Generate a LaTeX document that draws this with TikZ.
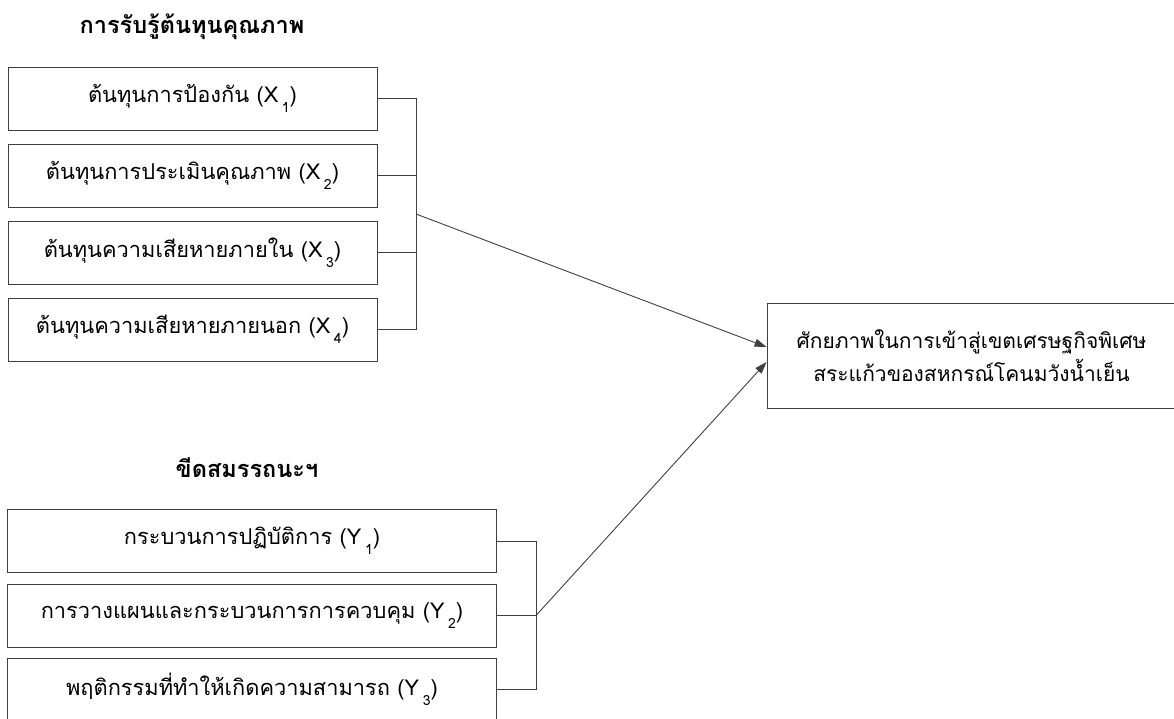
\documentclass[tikz,border=0pt]{standalone}
\usepackage{fontspec}
\newfontfamily\thai[Script=Thai]{Loma}
\usetikzlibrary{arrows.meta}
\newcommand\sbx[1]{\,\raisebox{-0.45em}{\fontsize{14}{14}\selectfont #1}}
\begin{document}
\begin{tikzpicture}[x=1pt,y=-1pt,
  box/.style={draw=black!75,line width=0.9pt,inner sep=0pt,minimum height=63pt,font=\thai\fontsize{21.8}{24}\selectfont},
  xbox/.style={box,minimum width=369pt},
  ybox/.style={box,minimum width=489pt},
  tbox/.style={box,minimum width=409pt,minimum height=105pt,align=center,font=\thai\fontsize{21}{33}\selectfont},
  ttl/.style={font=\thai\bfseries\fontsize{23.5}{26}\selectfont},
  ln/.style={draw=black!75,line width=0.9pt},
  arr/.style={ln,-{Triangle[length=12pt,width=8pt]}}]
\useasboundingbox (0,0) rectangle (1174,719);
\node[ttl] (tx) at (192,27) {การรับรู้ต้นทุนคุณภาพ};
\node[xbox] (x1) at (192.5,98.5) {ต้นทุนการป้องกัน (X\sbx{1})};
\node[xbox] (x2) at (192.5,175.5) {ต้นทุนการประเมินคุณภาพ (X\sbx{2})};
\node[xbox] (x3) at (192.5,252.5) {ต้นทุนความเสียหายภายใน (X\sbx{3})};
\node[xbox] (x4) at (192.5,329.5) {ต้นทุนความเสียหายภายนอก (X\sbx{4})};
\node[ttl] (ty) at (247,468) {ขีดสมรรถนะฯ};
\node[ybox] (y1) at (252,541) {กระบวนการปฏิบัติการ (Y\sbx{1})};
\node[ybox] (y2) at (252,615.5) {การวางแผนและกระบวนการการควบคุม (Y\sbx{2})};
\node[ybox] (y3) at (252,689.5) {พฤติกรรมที่ทำให้เกิดความสามารถ (Y\sbx{3})};
\node[tbox] (tg) at (971.5,355.5) {ศักยภาพในการเข้าสู่เขตเศรษฐกิจพิเศษ\\สระแก้วของสหกรณ์โคนมวังน้ำเย็น};
% X bracket
\coordinate (bxt) at (416,98.5);
\coordinate (bxb) at (416,329.5);
\coordinate (bxm) at (416,214);
\foreach \n in {x1,x2,x3,x4} \draw[ln] (\n.east) -- (\n.east -| bxt);
\draw[ln] (bxt) -- (bxb);
% Y bracket
\coordinate (byt) at (536,541);
\coordinate (byb) at (536,689.5);
\coordinate (bym) at (536,615.5);
\foreach \n in {y1,y2,y3} \draw[ln] (\n.east) -- (\n.east -| byt);
\draw[ln] (byt) -- (byb);
% arrows
\draw[arr] (bxm) -- ([yshift=8.5pt]tg.west);
\draw[arr] (bym) -- ([yshift=-6.5pt]tg.west);
\end{tikzpicture}
\end{document}
